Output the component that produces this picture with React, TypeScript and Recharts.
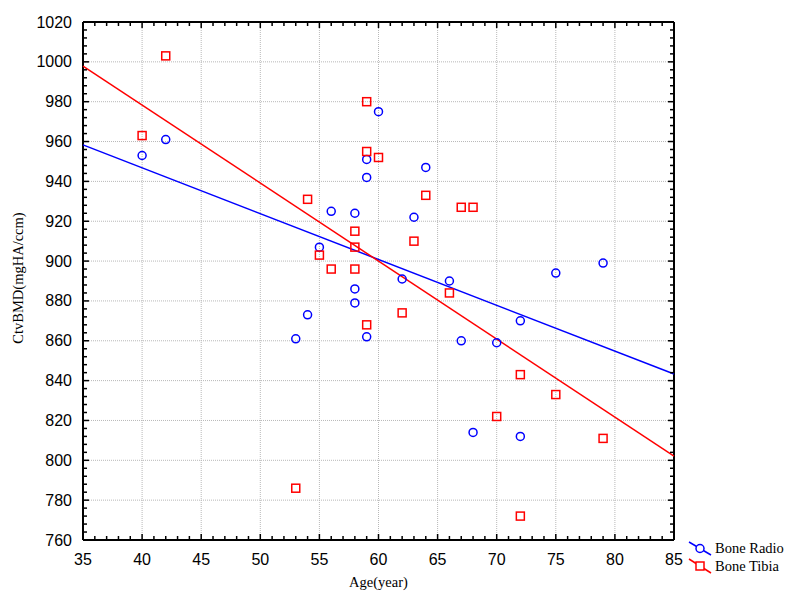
import React from 'react';
import { ScatterChart, Scatter, XAxis, YAxis, CartesianGrid, Label } from 'recharts';

// Bone Radio (circles)
const radioAge = [40, 42, 60, 59, 59, 64, 56, 58, 63, 55, 58, 58, 54, 53, 59, 62, 66, 67, 70, 72, 68, 72, 75, 79];
const radioBmd = [953, 961, 975, 951, 942, 947, 925, 924, 922, 907, 886, 879, 873, 861, 862, 891, 890, 860, 859, 870, 814, 812, 894, 899];

// Bone Tibia (squares)
const tibiaAge = [40, 42, 59, 59, 60, 64, 54, 67, 68, 58, 58, 55, 63, 56, 58, 66, 62, 59, 72, 75, 70, 79, 53, 72];
const tibiaBmd = [963, 1003, 980, 955, 952, 933, 931, 927, 927, 915, 907, 903, 910, 896, 896, 884, 874, 868, 843, 833, 822, 811, 786, 772];

// fitted lines, read at the frame edges
const fitAge = [35, 85];
const radioFit = [958.3, 843.3];
const tibiaFit = [997.9, 802.1];

const xMajor = [35, 40, 45, 50, 55, 60, 65, 70, 75, 80, 85];
const yMajor = [760, 780, 800, 820, 840, 860, 880, 900, 920, 940, 960, 980, 1000, 1020];
const xTicks = Array.from({ length: 51 }, (_, i) => 35 + i);
const yTicks = Array.from({ length: 66 }, (_, i) => 760 + i * 4);

const BLUE = '#0000ff';
const RED = '#ff0000';
const SANS = '"Liberation Sans", Arial, sans-serif';
const SERIF = '"Liberation Serif", "Times New Roman", serif';

const pairs = (xs: number[], ys: number[]) => xs.map((x, i) => ({ x, y: ys[i] }));

const radioData = pairs(radioAge, radioBmd);
const tibiaData = pairs(tibiaAge, tibiaBmd);
const radioLine = pairs(fitAge, radioFit);
const tibiaLine = pairs(fitAge, tibiaFit);

const isXMajor = (v: number) => xMajor.includes(v);
const isYMajor = (v: number) => yMajor.includes(v);

const BottomTick = (props: any) => {
  const { x, y, payload } = props;
  const major = isXMajor(payload.value);
  return (
    <g>
      <line x1={x} y1={y} x2={x} y2={y - (major ? 6 : 4)} stroke="#000" strokeWidth={1.5} />
      {major && (
        <text x={x} y={y + 19} textAnchor="middle" dominantBaseline="central" fontSize={16} fontFamily={SANS} fill="#000">
          {payload.value}
        </text>
      )}
    </g>
  );
};

const TopTick = (props: any) => {
  const { x, y, payload } = props;
  const major = isXMajor(payload.value);
  return <line x1={x} y1={y} x2={x} y2={y + (major ? 6 : 4)} stroke="#000" strokeWidth={1.5} />;
};

const LeftTick = (props: any) => {
  const { x, y, payload } = props;
  const major = isYMajor(payload.value);
  return (
    <g>
      <line x1={x} y1={y} x2={x + (major ? 6 : 4)} y2={y} stroke="#000" strokeWidth={1.5} />
      {major && (
        <text x={x - 11} y={y} textAnchor="end" dominantBaseline="central" fontSize={16} fontFamily={SANS} fill="#000">
          {payload.value}
        </text>
      )}
    </g>
  );
};

const RightTick = (props: any) => {
  const { x, y, payload } = props;
  const major = isYMajor(payload.value);
  return <line x1={x} y1={y} x2={x - (major ? 6 : 4)} y2={y} stroke="#000" strokeWidth={1.5} />;
};

const Circle = (props: any) => (
  <circle cx={props.cx} cy={props.cy} r={4} fill="none" stroke={BLUE} strokeWidth={1.5} />
);

const Square = (props: any) => (
  <rect x={props.cx - 4} y={props.cy - 4} width={8} height={8} fill="none" stroke={RED} strokeWidth={1.5} />
);

const NoDot = () => <g />;

const XTitle = (props: any) => {
  const { x, y, width } = props.viewBox;
  return (
    <text x={x + width / 2} y={y + 42} textAnchor="middle" dominantBaseline="central" fontSize={14.5} fontFamily={SERIF} fill="#000">
      Age(year)
    </text>
  );
};

const YTitle = (props: any) => {
  const { x, y, height } = props.viewBox;
  const cx = x + 18;
  const cy = y + height / 2 - 3;
  return (
    <text x={cx} y={cy} transform={`rotate(-90, ${cx}, ${cy})`} textAnchor="middle" dominantBaseline="central" fontSize={14.5} fontFamily={SERIF} fill="#000">
      CtvBMD(mgHA/ccm)
    </text>
  );
};

const LegendOverlay = () => (
  <svg width={800} height={602} style={{ position: 'absolute', left: 0, top: 0, pointerEvents: 'none' }}>
    <line x1={689} y1={542} x2={711} y2={555} stroke={BLUE} strokeWidth={1.5} />
    <circle cx={700} cy={548.5} r={4} fill="#fff" stroke={BLUE} strokeWidth={1.5} />
    <text x={715} y={548} dominantBaseline="central" fontSize={14.5} fontFamily={SERIF} fill="#000">Bone Radio</text>
    <line x1={689} y1={559} x2={711} y2={573} stroke={RED} strokeWidth={1.5} />
    <rect x={696} y={562} width={8} height={8} fill="#fff" stroke={RED} strokeWidth={1.5} />
    <text x={715} y={566} dominantBaseline="central" fontSize={14.5} fontFamily={SERIF} fill="#000">Bone Tibia</text>
  </svg>
);

const frameLine = { stroke: '#000', strokeWidth: 2 };

const App: React.FC = () => {
  return (
    <div style={{ position: 'absolute', left: 0, top: 0, width: 800, height: 602, background: '#fff' }}>
      <ScatterChart width={800} height={602} margin={{ top: 21, right: 125, bottom: 0, left: 0 }}>
        <CartesianGrid
          stroke="#b8b8b8"
          strokeDasharray="1 1"
          verticalValues={xMajor.slice(1, -1)}
          horizontalValues={yMajor.slice(1, -1)}
        />
        <XAxis
          xAxisId={0}
          dataKey="x"
          type="number"
          orientation="bottom"
          domain={[35, 85]}
          ticks={xTicks}
          interval={0}
          height={62}
          tickSize={0}
          tickMargin={0}
          tickLine={false}
          tick={<BottomTick />}
          axisLine={frameLine}
        >
          <Label content={<XTitle />} />
        </XAxis>
        <XAxis
          xAxisId="top"
          dataKey="x"
          type="number"
          orientation="top"
          domain={[35, 85]}
          ticks={xTicks}
          interval={0}
          height={1}
          tickSize={0}
          tickMargin={0}
          tickLine={false}
          tick={<TopTick />}
          axisLine={frameLine}
        />
        <YAxis
          yAxisId={0}
          dataKey="y"
          type="number"
          orientation="left"
          domain={[760, 1020]}
          ticks={yTicks}
          interval={0}
          width={83}
          tickSize={0}
          tickMargin={0}
          tickLine={false}
          tick={<LeftTick />}
          axisLine={frameLine}
        >
          <Label content={<YTitle />} />
        </YAxis>
        <YAxis
          yAxisId="right"
          dataKey="y"
          type="number"
          orientation="right"
          domain={[760, 1020]}
          ticks={yTicks}
          interval={0}
          width={1}
          tickSize={0}
          tickMargin={0}
          tickLine={false}
          tick={<RightTick />}
          axisLine={frameLine}
        />
        <Scatter name="frame" xAxisId="top" yAxisId="right" data={radioLine} shape={<NoDot />} isAnimationActive={false} />
        <Scatter name="Radio fit" data={radioLine} line={{ stroke: BLUE, strokeWidth: 1.5 }} shape={<NoDot />} isAnimationActive={false} />
        <Scatter name="Tibia fit" data={tibiaLine} line={{ stroke: RED, strokeWidth: 1.5 }} shape={<NoDot />} isAnimationActive={false} />
        <Scatter name="Bone Radio" data={radioData} shape={<Circle />} isAnimationActive={false} />
        <Scatter name="Bone Tibia" data={tibiaData} shape={<Square />} isAnimationActive={false} />
      </ScatterChart>
      <LegendOverlay />
    </div>
  );
};

export default App;
